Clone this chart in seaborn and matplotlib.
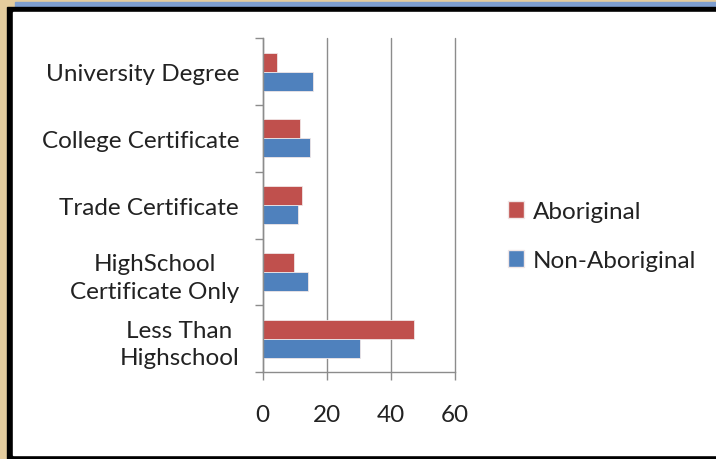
import numpy as np
import pandas as pd
import seaborn as sns
import matplotlib.pyplot as plt
from matplotlib.patches import Rectangle, Patch

# data
categories = ["University Degree", "College Certificate", "Trade Certificate",
              "HighSchool\nCertificate Only", "Less Than\nHighschool"]
aboriginal = [4.6, 11.8, 12.2, 9.7, 47.4]
non_aboriginal = [15.8, 14.9, 10.9, 14.3, 30.5]
groups = ["Aboriginal", "Non-Aboriginal"]
colors = ["#C0504D", "#4F81BD"]
xticks = [0, 20, 40, 60]

df = pd.DataFrame({
    "level": categories * 2,
    "pct": aboriginal + non_aboriginal,
    "group": [groups[0]] * len(categories) + [groups[1]] * len(categories),
})

sns.set_style("white")
plt.rcParams['font.family'] = ['Lato', 'DejaVu Sans']

W, H = 716, 460
fs = 17.5
fig = plt.figure(figsize=(W / 100, H / 100), dpi=100)
fig.patch.set_facecolor("#E4CC9E")

# frame: blue strip on top, black border, white chart area
def px_rect(x0, y0, x1, y1, color, z):
    fig.patches.append(Rectangle((x0 / W, 1 - y1 / H), (x1 - x0) / W, (y1 - y0) / H,
                                 transform=fig.transFigure, color=color, zorder=z))

px_rect(15, 3, W, 9, "#7E9ECF", -12)
px_rect(7, 8, W, H, "black", -11)
px_rect(13, 13, W, 456, "white", -10)

ax = fig.add_axes([262.7 / W, 1 - 373 / H, 192 / W, 333.7 / H])
ax.patch.set_alpha(0)

sns.barplot(data=df, y="level", x="pct", hue="group", order=categories,
            hue_order=groups, palette=colors, saturation=1, width=0.57, orient="h",
            edgecolor="#F0E6E6", linewidth=0.6, legend=False, ax=ax)

ax.set_xlim(0, 60)
ax.set_ylim(4.5, -0.5)
ax.set_xticks(xticks)
ax.set_xticklabels([str(v) for v in xticks], fontsize=fs, color="#222222")
ax.set_xlabel("")
ax.set_ylabel("")
ax.xaxis.grid(True, color="#8C8C8C", linewidth=1)
ax.set_axisbelow(True)
for gl in ax.get_xgridlines():
    gl.set_clip_on(False)

ax.set_yticks(range(len(categories)))
ax.set_yticklabels(categories, fontsize=fs, color="#222222", linespacing=1.4)
for t in ax.get_yticklabels():
    t.set_multialignment("center")
ax.set_yticks(np.arange(-0.5, len(categories)), minor=True)
ax.tick_params(axis="y", which="major", left=False, length=0, pad=17)
ax.tick_params(axis="y", which="minor", left=True, length=6, width=1,
               color="#8C8C8C", direction="out")
ax.tick_params(axis="x", bottom=True, length=6, width=1, color="#8C8C8C",
               direction="out", pad=17)

for s in ["top", "right"]:
    ax.spines[s].set_visible(False)
for s in ["left", "bottom"]:
    ax.spines[s].set_color("#8C8C8C")
    ax.spines[s].set_linewidth(1)

handles = [Patch(facecolor=c, edgecolor="#F0E6E6", label=g) for g, c in zip(groups, colors)]
fig.legend(handles=handles, loc="upper left", bbox_to_anchor=(486 / W, 1 - 180 / H),
           frameon=False, fontsize=fs, handlelength=0.68, handleheight=0.68,
           handletextpad=0.35, labelspacing=1.15, labelcolor="#222222")

fig.savefig("out.png", dpi=100, facecolor=fig.get_facecolor())
